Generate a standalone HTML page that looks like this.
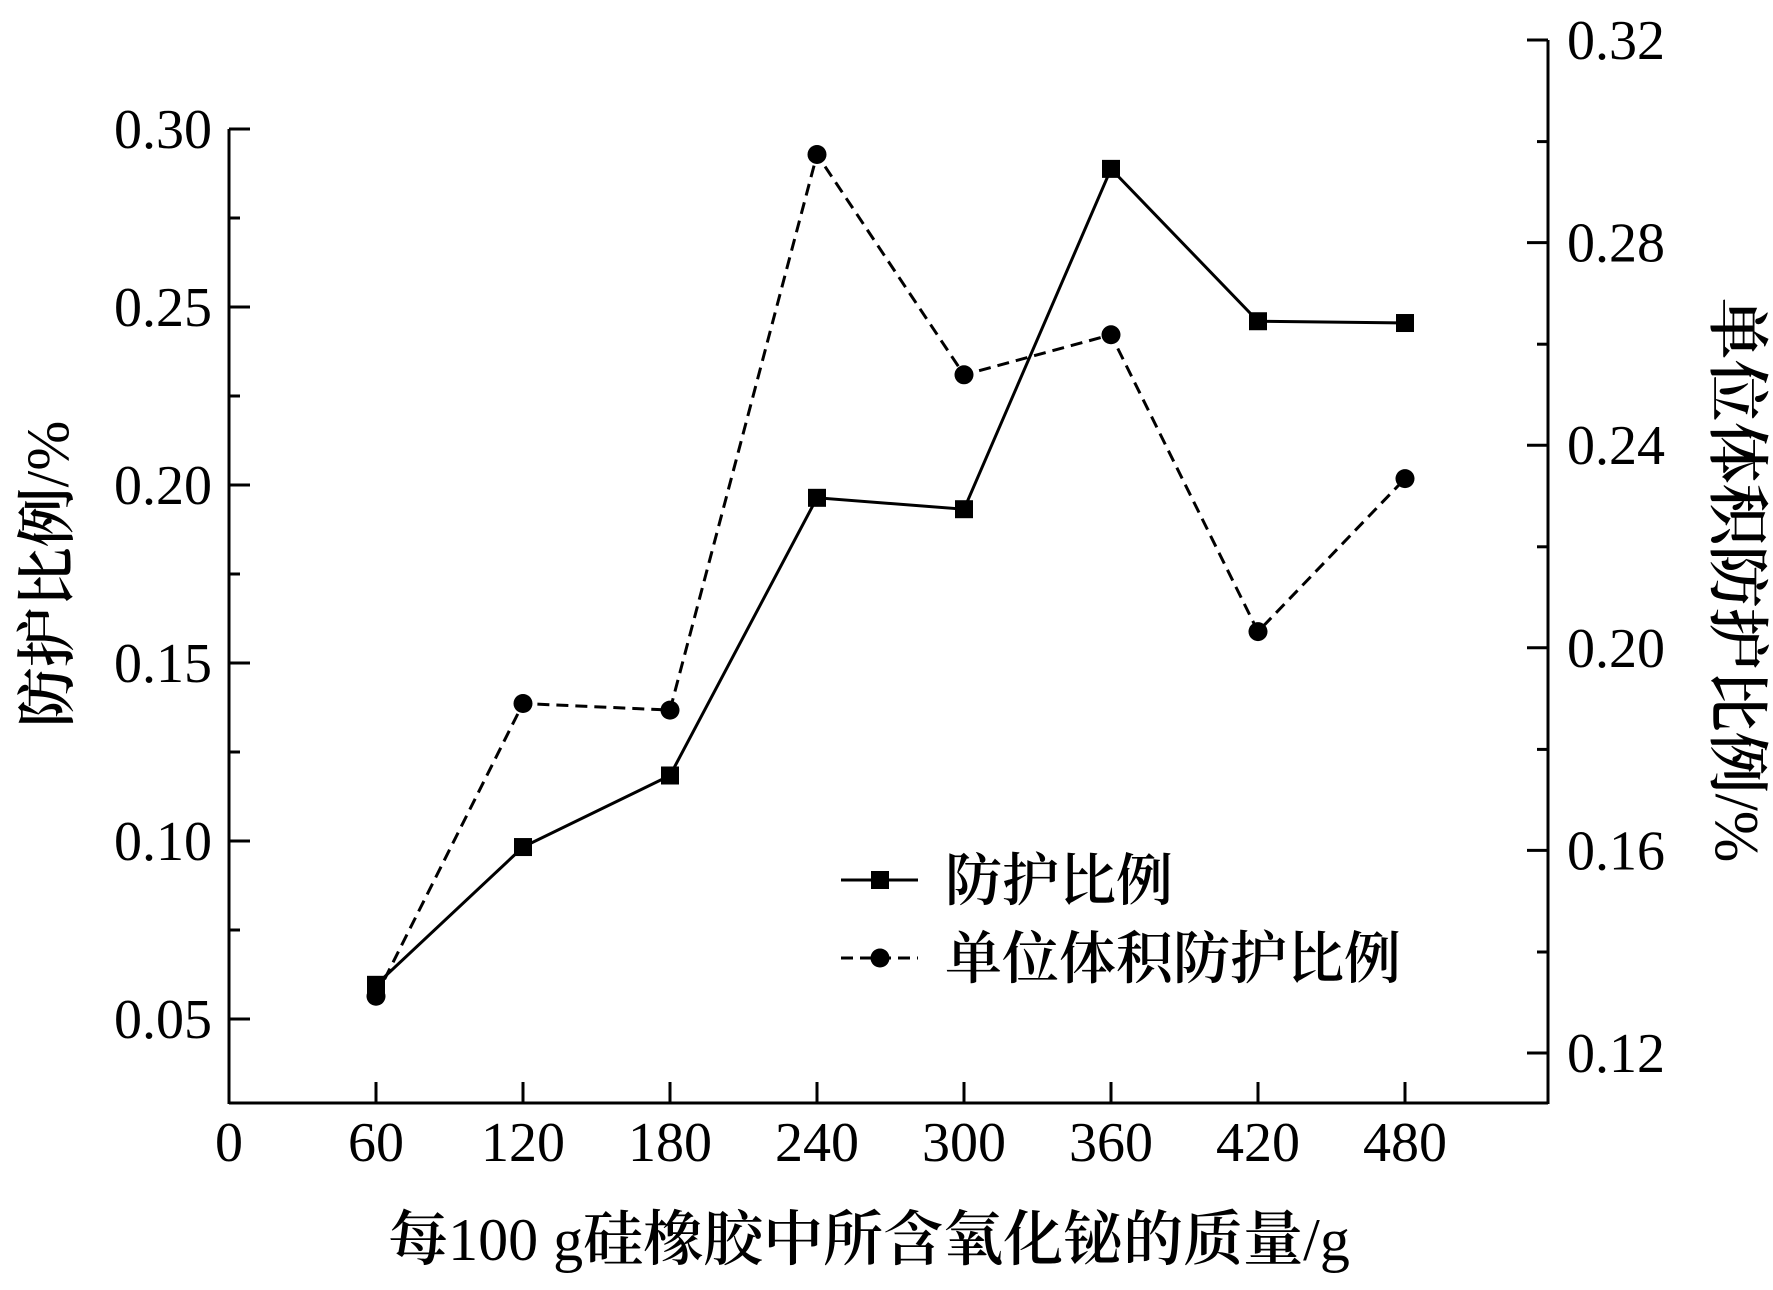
<!DOCTYPE html>
<html><head><meta charset="utf-8"><style>
html,body{margin:0;padding:0;background:#fff;}
svg{display:block;}
text{font-family:"Liberation Serif","Noto Serif CJK SC",serif;fill:#000;}
.cjk{font-family:"Liberation Serif","Noto Serif CJK SC","Noto Sans CJK SC",serif;font-weight:600;}
.lat{font-weight:normal;}
</style></head><body>
<svg id="chart" width="1773" height="1290" viewBox="0 0 1773 1290">
<g id="axes"></g>
<g id="series"></g>
<g id="legend">
  <line x1="841" y1="880" x2="918" y2="880" stroke="#000" stroke-width="3"/>
  <rect x="871" y="871" width="18" height="18" fill="#000"/>
  <text x="945" y="900" font-size="57" class="cjk">防护比例</text>
  <line x1="841" y1="958" x2="918" y2="958" stroke="#000" stroke-width="3" stroke-dasharray="12,7"/>
  <circle cx="880" cy="958" r="9.5" fill="#000"/>
  <text x="945" y="978" font-size="57" class="cjk">单位体积防护比例</text>
</g>
<text x="869" y="1260" font-size="60" text-anchor="middle" class="cjk">每<tspan class="lat">100 g</tspan>硅橡胶中所含氧化铋的质量<tspan class="lat">/g</tspan></text>
<text transform="translate(68,574) rotate(-90)" font-size="60" text-anchor="middle" class="cjk">防护比例<tspan class="lat">/%</tspan></text>
<text transform="translate(1716,580) rotate(90)" font-size="62" text-anchor="middle" class="cjk">单位体积防护比例<tspan class="lat">/%</tspan></text>
</svg>
<script>
const categories = [60,120,180,240,300,360,420,480];
const protectionRatio = [0.0596,0.0983,0.1184,0.1964,0.1932,0.2888,0.2460,0.2455];
const unitVolumeRatio = [0.1312,0.1890,0.1877,0.2974,0.2539,0.2618,0.2032,0.2334];
const xTicks = [0,60,120,180,240,300,360,420,480];
const leftTicks = [0.05,0.10,0.15,0.20,0.25,0.30];
const rightTicks = [0.12,0.16,0.20,0.24,0.28,0.32];

const NS="http://www.w3.org/2000/svg";
const X0=229, X1=1548, Y0=1103;
const xScale = v => X0 + v*(147/60);
const yL = v => 1019 - (v-0.05)*(178/0.05);
const yR = v => 1053 - (v-0.12)*(1013/0.20);
function mk(tag, attrs, parent){const e=document.createElementNS(NS,tag);for(const k in attrs)e.setAttribute(k,attrs[k]);parent.appendChild(e);return e;}
const axes=document.getElementById('axes'), series=document.getElementById('series');
const sw={stroke:'#000','stroke-width':3};

let a;
a=mk('line',{x1:X0,y1:Y0,x2:X1,y2:Y0,...sw},axes);


a=mk('line',{x1:X0,y1:yL(0.30),x2:X0,y2:Y0+1,...sw},axes);


a=mk('line',{x1:X1,y1:yR(0.32),x2:X1,y2:Y0+1,...sw},axes);



xTicks.forEach(v=>{
  const x=xScale(v);
  if(v>0){const t=mk('line',{x1:x,y1:Y0,x2:x,y2:Y0-21,...sw},axes);
  
  }
  const l=mk('text',{x:x,y:1161,'font-size':56,'text-anchor':'middle'},axes);
  l.textContent=v;
  
  
});
leftTicks.forEach((v,i)=>{
  const y=yL(v);
  const t=mk('line',{x1:X0,y1:y,x2:X0+21,y2:y,...sw},axes);
  
  
  if(i<leftTicks.length-1){const m=mk('line',{x1:X0,y1:y-89,x2:X0+11,y2:y-89,...sw},axes);
  
  }
  const l=mk('text',{x:212,y:y+19,'font-size':56,'text-anchor':'end'},axes);
  l.textContent=v.toFixed(2);
  
  
});
rightTicks.forEach((v,i)=>{
  const y=yR(v);
  const t=mk('line',{x1:X1,y1:y,x2:X1-21,y2:y,...sw},axes);
  
  
  if(i<rightTicks.length-1){const m=mk('line',{x1:X1,y1:y-101,x2:X1-11,y2:y-101,...sw},axes);
  
  }
  const l=mk('text',{x:1567,y:y+19,'font-size':56},axes);
  l.textContent=v.toFixed(2);
  
  
});

let p=mk('polyline',{points:categories.map((c,i)=>xScale(c)+','+yL(protectionRatio[i])).join(' '),fill:'none',...sw},series);


p=mk('polyline',{points:categories.map((c,i)=>xScale(c)+','+yR(unitVolumeRatio[i])).join(' '),fill:'none','stroke-dasharray':'12,7',...sw},series);


categories.forEach((c,i)=>{
  const r=mk('rect',{x:xScale(c)-9,y:yL(protectionRatio[i])-9,width:18,height:18,fill:'#000'},series);
  
  
  const ci=mk('circle',{cx:xScale(c),cy:yR(unitVolumeRatio[i]),r:9.5,fill:'#000'},series);
  
  
});
</script>
</body></html>
